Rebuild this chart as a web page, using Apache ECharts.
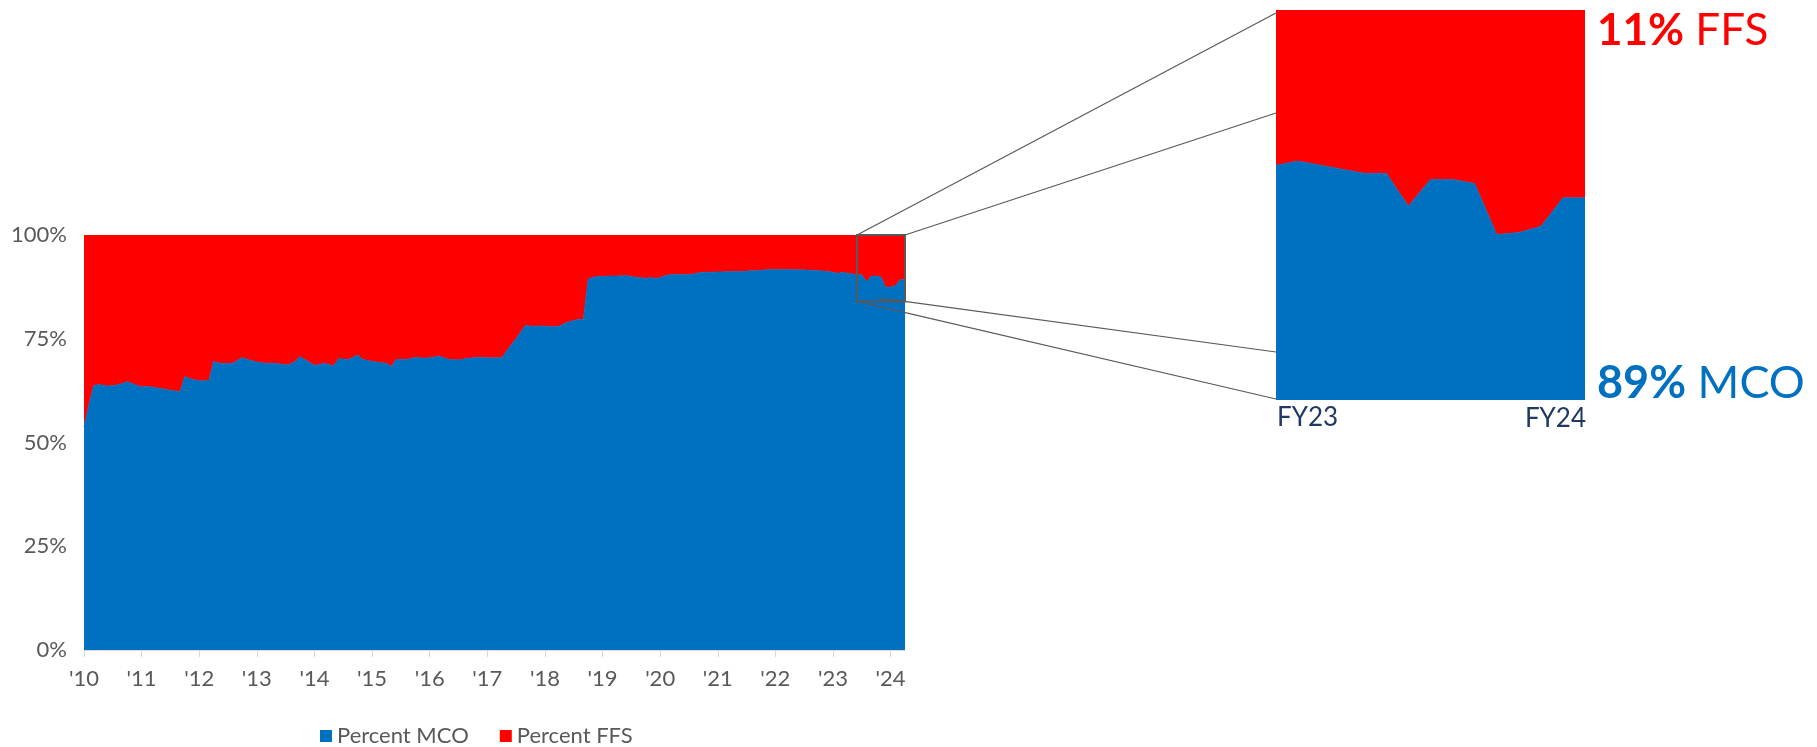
<!DOCTYPE html>
<html>
<head>
<meta charset="utf-8">
<script src="https://cdn.jsdelivr.net/npm/echarts@6/dist/echarts.min.js"></script>
<style>
  html, body { margin: 0; padding: 0; background: #ffffff; }
  #chart { width: 1817px; height: 747px; }
</style>
</head>
<body>
<div id="chart"></div>
<script>
// Fiscal-year tick labels, one per January
const yearLabels = ["'10", "'11", "'12", "'13", "'14", "'15", "'16", "'17", "'18", "'19", "'20", "'21", "'22", "'23", "'24"];

// Monthly share of enrollment in managed care (MCO), Jan 2010 .. Apr 2024, in percent
const mcoShare = [
  53.8, 59.0, 63.7, 64.0, 63.8, 63.6, 63.7, 63.9, 64.2, 64.7, 64.2, 63.8,
  63.4, 63.5, 63.4, 63.2, 63.0, 62.8, 62.6, 62.4, 62.2, 65.9, 65.4, 65.1,
  64.9, 64.9, 64.9, 69.5, 69.2, 69.0, 69.1, 69.1, 69.8, 70.5, 70.0, 69.7,
  69.4, 69.2, 69.1, 69.1, 69.1, 68.9, 68.7, 68.9, 69.6, 70.7, 70.0, 69.3,
  68.6, 68.8, 69.1, 68.8, 68.5, 70.2, 70.1, 70.0, 70.5, 71.1, 70.0, 69.8,
  69.5, 69.4, 69.2, 69.1, 68.3, 70.0, 70.0, 70.0, 70.2, 70.5, 70.4, 70.3,
  70.4, 70.6, 70.8, 70.4, 70.0, 70.0, 69.9, 70.1, 70.3, 70.4, 70.5, 70.5,
  70.4, 70.4, 70.4, 70.4, 72.0, 73.6, 75.0, 76.7, 78.3, 78.0, 78.0, 78.1,
  78.0, 78.0, 77.9, 78.1, 78.6, 79.1, 79.4, 79.7, 79.6, 89.4, 89.8, 90.0,
  90.0, 90.1, 90.1, 90.1, 90.2, 90.2, 90.0, 89.8, 89.7, 89.6, 89.7, 89.6,
  89.7, 90.2, 90.4, 90.5, 90.5, 90.5, 90.5, 90.6, 90.9, 91.0, 91.0, 91.0,
  91.1, 91.1, 91.2, 91.2, 91.2, 91.2, 91.3, 91.4, 91.4, 91.5, 91.6, 91.7,
  91.7, 91.7, 91.7, 91.7, 91.6, 91.6, 91.6, 91.5, 91.5, 91.4, 91.3, 91.2,
  91.0, 90.8, 91.0, 90.8, 90.6, 90.4, 90.4, 88.8, 90.1, 90.1, 89.9, 87.4,
  87.5, 87.8, 89.2, 89.2
];

// The two delivery systems make up the whole population, so FFS is the remainder
const ffsShare = mcoShare.map(v => Math.round((100 - v) * 10) / 10);

// Month categories for the x axis
const months = [];
yearLabels.forEach((lbl, y) => {
  for (let m = 1; m <= 12; m++) {
    if (months.length < mcoShare.length) months.push((2010 + y) + '-' + String(m).padStart(2, '0'));
  }
});

// Months shown in the enlarged detail panel (FY23 -> FY24)
const detailStart = 157;
const detailMonths = months.slice(detailStart);
const detailMco = mcoShare.slice(detailStart);
const detailFfs = ffsShare.slice(detailStart);
const detailEnds = ['FY23', 'FY24'];

// Highlighted window in the main chart
const boxFrom = 161, boxTo = 171, boxLow = 84, boxHigh = 100;

const BLUE = '#0070C0';
const RED = '#FF0000';
const GREY = '#595959';
const FONT = 'Lato, "Open Sans", sans-serif';

// Detail panel placement
const panelLeft = 1276, panelTop = 10, panelWidth = 309, panelHeight = 390;
const panelRight = panelLeft + panelWidth, panelBottom = panelTop + panelHeight;

const chart = echarts.init(document.getElementById('chart'), null, { renderer: 'canvas' });

const areaSeries = (name, data, stack, color, axis) => ({
  name, type: 'line', data, stack,
  xAxisIndex: axis, yAxisIndex: axis,
  showSymbol: false, symbol: 'none',
  lineStyle: { width: name === 'Percent MCO' ? 0.8 : 0, color },
  itemStyle: { color },
  areaStyle: { color, opacity: 1 },
  emphasis: { disabled: true },
  animation: false
});

chart.setOption({
  animation: false,
  textStyle: { fontFamily: FONT },
  grid: [
    { left: 84, top: 235, width: 821, height: 415 },
    { left: panelLeft, top: panelTop, width: panelWidth, height: panelHeight }
  ],
  xAxis: [
    {
      type: 'category', gridIndex: 0, data: months, boundaryGap: false,
      axisLine: { show: true, lineStyle: { color: '#D9D9D9', width: 1 } },
      axisTick: { show: true, interval: 11, length: 7, lineStyle: { color: '#D9D9D9' } },
      axisLabel: {
        interval: 11, color: GREY, fontSize: 22, fontFamily: FONT, margin: 18,
        formatter: (v, i) => (i % 12 === 0 ? yearLabels[i / 12] : '')
      },
      splitLine: { show: false }
    },
    {
      type: 'category', gridIndex: 1, data: detailMonths, boundaryGap: false,
      axisLine: { show: false }, axisTick: { show: false }, axisLabel: { show: false },
      splitLine: { show: false }
    }
  ],
  yAxis: [
    {
      type: 'value', gridIndex: 0, min: 0, max: 100, interval: 25,
      axisLine: { show: false }, axisTick: { show: false }, splitLine: { show: false },
      axisLabel: { color: GREY, fontSize: 22, fontFamily: FONT, margin: 17, formatter: '{value}%' }
    },
    {
      type: 'value', gridIndex: 1, min: 79.3, max: 98.4,
      axisLine: { show: false }, axisTick: { show: false }, splitLine: { show: false },
      axisLabel: { show: false }
    }
  ],
  legend: {
    data: ['Percent MCO', 'Percent FFS'],
    left: 315, top: 720,
    icon: 'rect', itemWidth: 12, itemHeight: 12, itemGap: 31,
    textStyle: { color: GREY, fontSize: 22, fontFamily: FONT },
    selectedMode: false
  },
  series: [
    areaSeries('Percent MCO', mcoShare, 'main', BLUE, 0),
    areaSeries('Percent FFS', ffsShare, 'main', RED, 0),
    areaSeries('Percent MCO', detailMco, 'detail', BLUE, 1),
    areaSeries('Percent FFS', detailFfs, 'detail', RED, 1)
  ]
});

// Highlight box and the connector lines toward the detail panel
const p0 = chart.convertToPixel({ xAxisIndex: 0, yAxisIndex: 0 }, [boxFrom, boxHigh]);
const p1 = chart.convertToPixel({ xAxisIndex: 0, yAxisIndex: 0 }, [boxTo, boxLow]);
const bx0 = p0[0], by0 = p0[1], bx1 = p1[0], by1 = p1[1];
const lineStyle = { stroke: GREY, lineWidth: 1.2 };
const slopeBR = (352 - by1) / (panelLeft - bx1);

const labelStyle = (size, color) => ({
  b: { fontSize: size, fontWeight: 'bold', fill: color, fontFamily: FONT, lineHeight: size },
  r: { fontSize: size, fill: color, fontFamily: FONT, lineHeight: size }
});

chart.setOption({
  graphic: [
    { type: 'line', silent: true, shape: { x1: bx0, y1: by0, x2: panelLeft, y2: 13 }, style: lineStyle, z: 10 },
    { type: 'line', silent: true, shape: { x1: bx1, y1: by0, x2: panelLeft, y2: 113 }, style: lineStyle, z: 10 },
    { type: 'line', silent: true, shape: { x1: bx1 - 26, y1: by1 - 26 * slopeBR, x2: panelLeft, y2: 352 }, style: lineStyle, z: 10 },
    { type: 'line', silent: true, shape: { x1: bx0, y1: by1, x2: panelLeft, y2: 399 }, style: lineStyle, z: 10 },
    { type: 'rect', silent: true, shape: { x: bx0, y: by0, width: bx1 - bx0, height: by1 - by0 },
      style: { fill: 'none', stroke: GREY, lineWidth: 2 }, z: 11 },
    { type: 'text', silent: true, x: panelRight + 12, y: 31, z: 12,
      style: {
        text: '{b|' + Math.round(detailFfs[detailFfs.length - 1]) + '%}{r| FFS}',
        verticalAlign: 'middle', align: 'left',
        rich: labelStyle(44, RED)
      }
    },
    { type: 'text', silent: true, x: panelRight + 12, y: 383, z: 12,
      style: {
        text: '{b|' + Math.round(detailMco[detailMco.length - 1]) + '%}{r| MCO}',
        verticalAlign: 'middle', align: 'left',
        rich: labelStyle(45, BLUE)
      }
    },
    { type: 'text', silent: true, x: panelLeft + 1, y: panelBottom + 18, z: 12,
      style: { text: detailEnds[0], fontSize: 26, fontFamily: FONT, fill: '#203864', verticalAlign: 'middle', align: 'left' } },
    { type: 'text', silent: true, x: panelRight + 1, y: panelBottom + 19, z: 12,
      style: { text: detailEnds[1], fontSize: 26, fontFamily: FONT, fill: '#203864', verticalAlign: 'middle', align: 'right' } }
  ]
});
</script>
</body>
</html>
